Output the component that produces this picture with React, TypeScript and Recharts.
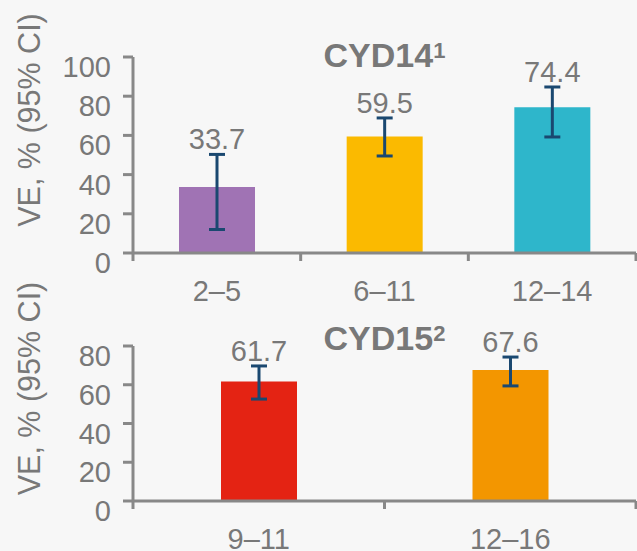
import { BarChart, Bar, XAxis, YAxis, ErrorBar, Cell, LabelList } from 'recharts';

// CYD14 — vaccine efficacy by age group
const cyd14Ages = ['2–5', '6–11', '12–14'];
const cyd14VE = [33.7, 59.5, 74.4];
const cyd14Low = [12.0, 49.5, 59.2];
const cyd14High = [50.3, 68.9, 84.7];
const cyd14Colors = ['#a073b4', '#fbba00', '#2eb6cb'];
const cyd14Ticks = [0, 20, 40, 60, 80, 100];

// CYD15
const cyd15Ages = ['9–11', '12–16'];
const cyd15VE = [61.7, 67.6];
const cyd15Low = [52.6, 59.4];
const cyd15High = [69.7, 74.3];
const cyd15Colors = ['#e42313', '#f39600'];
const cyd15Ticks = [0, 20, 40, 60, 80];

const FONT = '"Liberation Sans", Arial, sans-serif';
const TEXT = '#787878';
const AXIS = '#888888';
const NAVY = '#1a4870';
const BG = '#f7f7f7';
const W = 637;
const Y_AXIS_W = 133;
const PLOT_W = W - Y_AXIS_W - 1;

interface Row {
  age: string;
  ve: number;
  high: number;
  err: [number, number];
}

function buildRows(ages: string[], ve: number[], low: number[], high: number[]): Row[] {
  return ages.map((age, i) => ({
    age,
    ve: ve[i],
    high: high[i],
    err: [+(ve[i] - low[i]).toFixed(2), +(high[i] - ve[i]).toFixed(2)],
  }));
}

function YTick({ x, y, payload }: any) {
  return (
    <text x={x} y={y + 10} textAnchor="end" dominantBaseline="central" fill={TEXT} fontSize={29} fontFamily={FONT}>
      {payload.value}
    </text>
  );
}

function XTick({ x, y, payload, index, count }: any) {
  const half = payload.offset || PLOT_W / count / 2;
  const last = index === count - 1;
  return (
    <g>
      <line x1={x - half} x2={x - half} y1={y} y2={y + 8} stroke={AXIS} strokeWidth={3} />
      {last && <line x1={x + half} x2={x + half} y1={y} y2={y + 8} stroke={AXIS} strokeWidth={3} />}
      <text x={x} y={y + 48} textAnchor="middle" fill={TEXT} fontSize={29} fontFamily={FONT}>
        {payload.value}
      </text>
    </g>
  );
}

function YLabel({ viewBox }: any) {
  const cx = viewBox.x + 29;
  const cy = viewBox.y + viewBox.height / 2 - 35;
  return (
    <text
      x={cx}
      y={cy}
      transform={`rotate(-90 ${cx} ${cy})`}
      textAnchor="middle"
      dominantBaseline="central"
      fill={TEXT}
      fontSize={30.5}
      fontFamily={FONT}
    >
      VE, % (95% CI)
    </text>
  );
}

// value label sits just above the upper CI whisker
function ValueLabel({ x, y, width, height, value, index, rows }: any) {
  const row: Row = rows[index];
  const base = y + height;
  const top = base - (height * row.high) / row.ve;
  return (
    <text x={x + width / 2} y={top - 5} textAnchor="middle" fill={TEXT} fontSize={29} fontFamily={FONT}>
      {value}
    </text>
  );
}

interface PanelProps {
  rows: Row[];
  colors: string[];
  ticks: number[];
  height: number;
  top: number;
  xAxisHeight: number;
}

function Panel({ rows, colors, ticks, height, top, xAxisHeight }: PanelProps) {
  return (
    <BarChart width={W} height={height} data={rows} margin={{ top, right: 1, bottom: 0, left: 0 }}>
      <XAxis
        dataKey="age"
        height={xAxisHeight}
        axisLine={{ stroke: AXIS, strokeWidth: 3 }}
        tickLine={false}
        tickSize={0}
        tickMargin={0}
        interval={0}
        tick={(p: any) => <XTick {...p} count={rows.length} />}
      />
      <YAxis
        width={Y_AXIS_W}
        domain={[ticks[0], ticks[ticks.length - 1]]}
        ticks={ticks}
        interval={0}
        axisLine={{ stroke: AXIS, strokeWidth: 3 }}
        tickLine={{ stroke: AXIS, strokeWidth: 3 }}
        tickSize={10}
        tickMargin={12}
        tick={<YTick />}
        label={<YLabel />}
      />
      <Bar dataKey="ve" barSize={76} isAnimationActive={false}>
        {rows.map((_, i) => (
          <Cell key={i} fill={colors[i]} />
        ))}
        <ErrorBar dataKey="err" width={8} stroke={NAVY} strokeWidth={3} direction="y" isAnimationActive={false} />
        <LabelList dataKey="ve" content={(p: any) => <ValueLabel {...p} rows={rows} />} />
      </Bar>
    </BarChart>
  );
}

function Title({ text, sup, top }: { text: string; sup: string; top: number }) {
  return (
    <div
      style={{
        position: 'absolute',
        left: Y_AXIS_W,
        width: PLOT_W,
        top,
        textAlign: 'center',
        fontFamily: FONT,
        fontWeight: 'bold',
        fontSize: 34,
        lineHeight: '34px',
        color: TEXT,
        pointerEvents: 'none',
      }}
    >
      {text}
      <span style={{ fontSize: 22, position: 'relative', top: -9 }}>{sup}</span>
    </div>
  );
}

export default function App() {
  const rows14 = buildRows(cyd14Ages, cyd14VE, cyd14Low, cyd14High);
  const rows15 = buildRows(cyd15Ages, cyd15VE, cyd15Low, cyd15High);

  return (
    <div style={{ position: 'absolute', left: 0, top: 0, width: W, height: 551, background: BG, overflow: 'hidden' }}>
      <div style={{ position: 'absolute', left: 0, top: 0 }}>
        <Panel rows={rows14} colors={cyd14Colors} ticks={cyd14Ticks} height={310} top={57} xAxisHeight={57} />
      </div>
      <div style={{ position: 'absolute', left: 0, top: 260 }}>
        <Panel rows={rows15} colors={cyd15Colors} ticks={cyd15Ticks} height={291} top={86} xAxisHeight={50} />
      </div>
      <Title text="CYD14" sup="1" top={38} />
      <Title text="CYD15" sup="2" top={321} />
    </div>
  );
}
